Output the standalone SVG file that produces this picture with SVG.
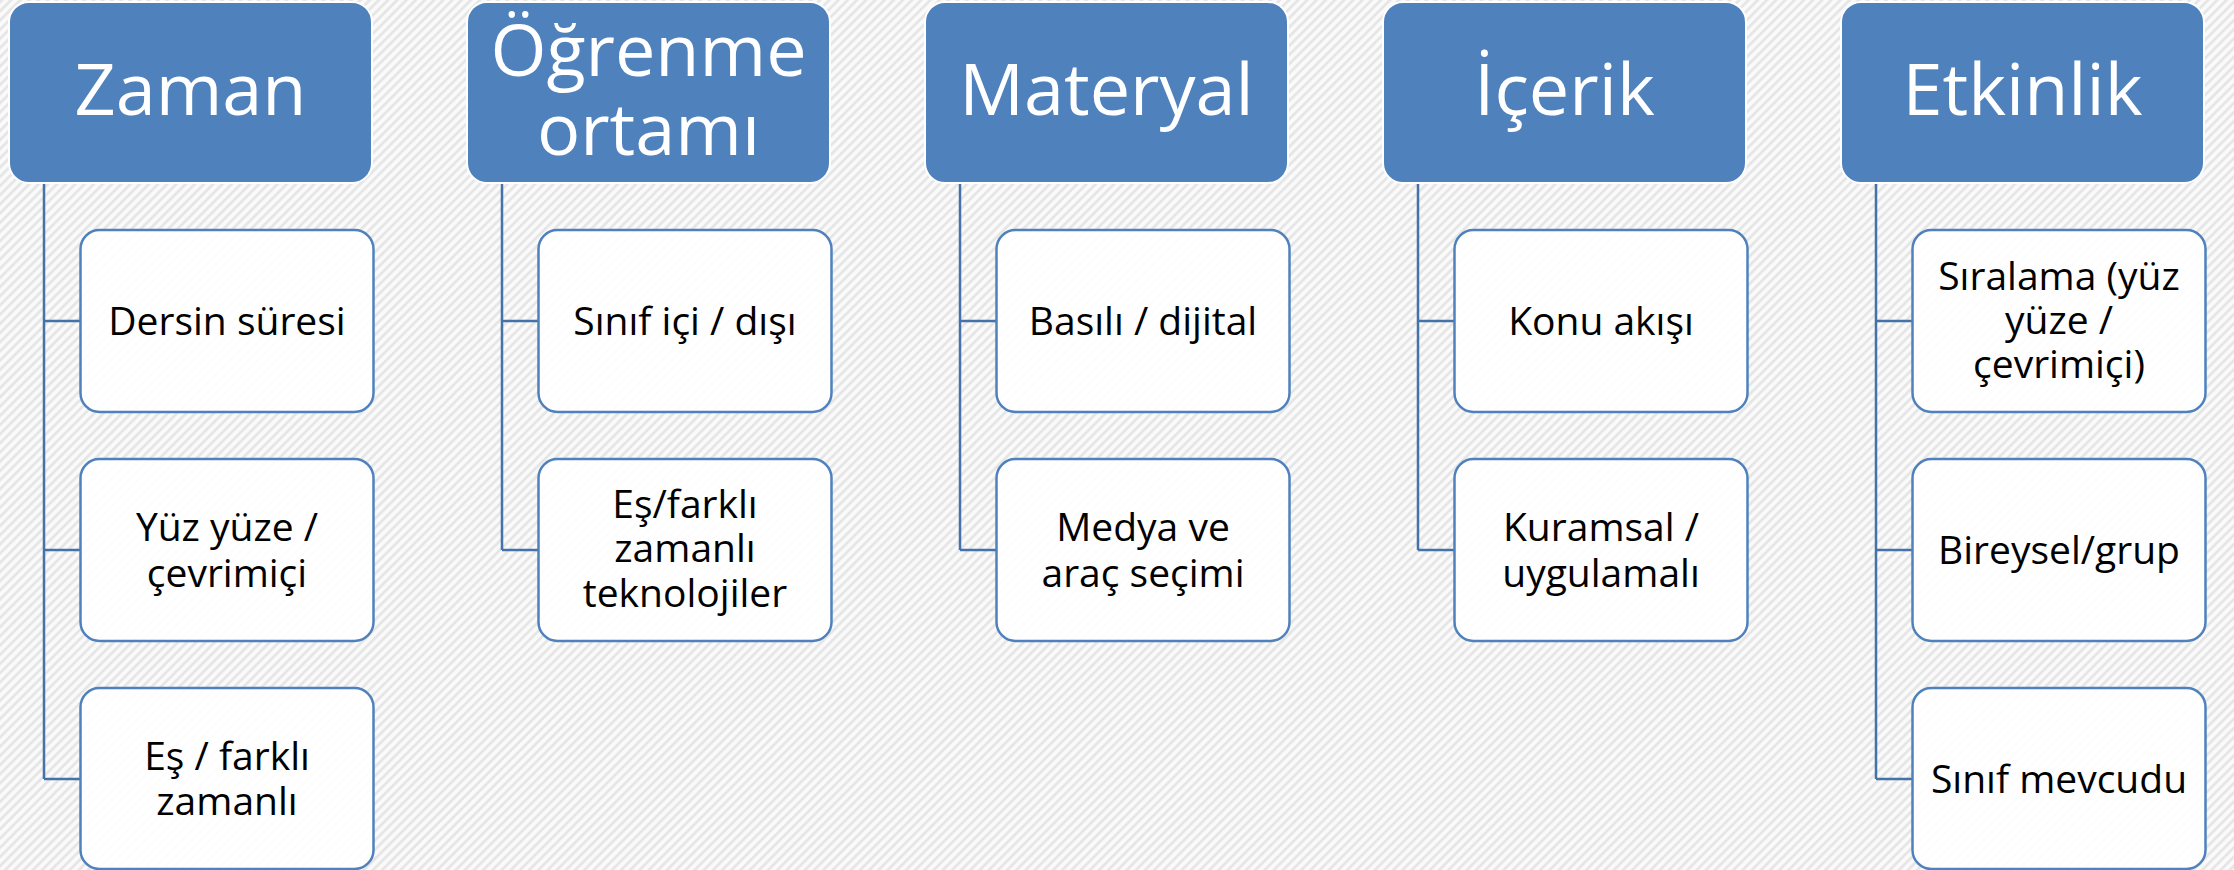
<svg xmlns="http://www.w3.org/2000/svg" width="2234" height="870" viewBox="0 0 2234 870">
<defs>
<pattern id="bg" width="6.5" height="6.5" patternUnits="userSpaceOnUse" patternTransform="rotate(45)">
<rect width="6.5" height="6.5" fill="#FAFAFA"/>
<rect width="2.8" height="6.5" fill="#E6E6E6"/>
</pattern>
<style>
.hdr{fill:#4F81BD;stroke:#FFFFFF;stroke-width:2}
.ch{fill:#FFFFFF;fill-opacity:0.9;stroke:#4F81BD;stroke-width:2.5}
.ht{font-family:"Open Sans","Liberation Sans",sans-serif;font-size:72px;fill:#FFFFFF;text-anchor:middle}
.ct{font-family:"Open Sans","Liberation Sans",sans-serif;font-size:39px;fill:#000000;text-anchor:middle}
.cn{fill:none;stroke:#4672AA;stroke-width:2.5}
</style>
</defs>
<rect width="2234" height="870" fill="url(#bg)"/>
<g id="connectors">
<path class="cn" d="M44 183 V779 M44 321 H80.5 M44 550 H80.5 M44 779 H80.5"/>
<path class="cn" d="M502 183 V550 M502 321 H538.5 M502 550 H538.5"/>
<path class="cn" d="M960 183 V550 M960 321 H996.5 M960 550 H996.5"/>
<path class="cn" d="M1418 183 V550 M1418 321 H1454.5 M1418 550 H1454.5"/>
<path class="cn" d="M1876 183 V779 M1876 321 H1912.5 M1876 550 H1912.5 M1876 779 H1912.5"/>
</g>
<g id="zaman"><rect class="hdr" x="9" y="2" width="363" height="181" rx="20"/><text class="ht" x="190.5" y="115">Zaman</text></g>
<g id="ogrenme"><rect class="hdr" x="467" y="2" width="363" height="181" rx="20"/><text class="ht" x="648.5" y="76">Öğrenme<tspan x="648.5" y="155">ortamı</tspan></text></g>
<g id="materyal"><rect class="hdr" x="925" y="2" width="363" height="181" rx="20"/><text class="ht" x="1106.5" y="115">Materyal</text></g>
<g id="icerik"><rect class="hdr" x="1383" y="2" width="363" height="181" rx="20"/><text class="ht" x="1564.5" y="115">İçerik</text></g>
<g id="etkinlik"><rect class="hdr" x="1841" y="2" width="363" height="181" rx="20"/><text class="ht" x="2022.5" y="115">Etkinlik</text></g>

<g id="zaman-1"><rect class="ch" x="80.5" y="230" width="293" height="182" rx="19"/><text class="ct" x="227" y="335">Dersin süresi</text></g>
<g id="zaman-2"><rect class="ch" x="80.5" y="459" width="293" height="182" rx="19"/><text class="ct" x="227" y="541">Yüz yüze /<tspan x="227" y="587">çevrimiçi</tspan></text></g>
<g id="zaman-3"><rect class="ch" x="80.5" y="688" width="293" height="181" rx="19"/><text class="ct" x="227" y="770">Eş / farklı<tspan x="227" y="815">zamanlı</tspan></text></g>

<g id="ogrenme-1"><rect class="ch" x="538.5" y="230" width="293" height="182" rx="19"/><text class="ct" x="685" y="335">Sınıf içi / dışı</text></g>
<g id="ogrenme-2"><rect class="ch" x="538.5" y="459" width="293" height="182" rx="19"/><text class="ct" x="685" y="518">Eş/farklı<tspan x="685" y="562">zamanlı</tspan><tspan x="685" y="607">teknolojiler</tspan></text></g>

<g id="materyal-1"><rect class="ch" x="996.5" y="230" width="293" height="182" rx="19"/><text class="ct" x="1143" y="335">Basılı / dijital</text></g>
<g id="materyal-2"><rect class="ch" x="996.5" y="459" width="293" height="182" rx="19"/><text class="ct" x="1143" y="541">Medya ve<tspan x="1143" y="587">araç seçimi</tspan></text></g>

<g id="icerik-1"><rect class="ch" x="1454.5" y="230" width="293" height="182" rx="19"/><text class="ct" x="1601" y="335">Konu akışı</text></g>
<g id="icerik-2"><rect class="ch" x="1454.5" y="459" width="293" height="182" rx="19"/><text class="ct" x="1601" y="541">Kuramsal /<tspan x="1601" y="587">uygulamalı</tspan></text></g>

<g id="etkinlik-1"><rect class="ch" x="1912.5" y="230" width="293" height="182" rx="19"/><text class="ct" x="2059" y="290">Sıralama (yüz<tspan x="2059" y="334">yüze /</tspan><tspan x="2059" y="378">çevrimiçi)</tspan></text></g>
<g id="etkinlik-2"><rect class="ch" x="1912.5" y="459" width="293" height="182" rx="19"/><text class="ct" x="2059" y="564">Bireysel/grup</text></g>
<g id="etkinlik-3"><rect class="ch" x="1912.5" y="688" width="293" height="181" rx="19"/><text class="ct" x="2059" y="793">Sınıf mevcudu</text></g>
</svg>
